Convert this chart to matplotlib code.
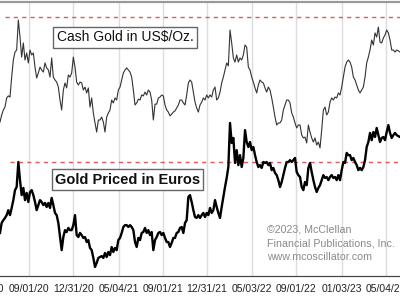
import numpy as np
import matplotlib
matplotlib.use("Agg")
import matplotlib.pyplot as plt
import matplotlib.dates as mdates
from matplotlib.patches import Rectangle

plt.rcParams['font.family'] = ['Liberation Sans', 'DejaVu Sans']

# cash gold, US$/oz (sampled about every 4.5 days from mid-June 2020)
usd_gold = [
    1717, 1741, 1758, 1768, 1799, 1806, 1802, 1870, 1928, 1955, 1962, 2064, 2006, 1938, 1986,
    1928, 1952, 1918, 1962, 1945, 1952, 1904, 1867, 1884, 1904, 1894, 1887, 1918, 1901, 1894,
    1870, 1935, 1870, 1860, 1853, 1836, 1792, 1758, 1826, 1850, 1833, 1877, 1870, 1884, 1938,
    1904, 1853, 1843, 1853, 1850, 1826, 1836, 1816, 1833, 1768, 1799, 1748, 1714, 1683, 1724,
    1724, 1734, 1717, 1683, 1734, 1748, 1758, 1792, 1782, 1799, 1792, 1826, 1836, 1860, 1884,
    1894, 1901, 1894, 1887, 1870, 1826, 1775, 1782, 1795, 1792, 1809, 1806, 1819, 1809, 1826,
    1819, 1792, 1724, 1778, 1778, 1799, 1802, 1809, 1806, 1775, 1758, 1751, 1738, 1744, 1751,
    1755, 1765, 1775, 1792, 1792, 1782, 1775, 1809, 1850, 1860, 1853, 1819, 1785, 1765, 1751,
    1775, 1785, 1799, 1792, 1809, 1799, 1809, 1802, 1826, 1836, 1792, 1799, 1819, 1850, 1870,
    1894, 1918, 1908, 2030, 1986, 1935, 1921, 1945, 1921, 1935, 1928, 1945, 1979, 1972, 1904,
    1894, 1870, 1853, 1833, 1816, 1843, 1860, 1853, 1850, 1833, 1819, 1836, 1826, 1799, 1768,
    1734, 1707, 1714, 1714, 1724, 1758, 1775, 1792, 1792, 1782, 1748, 1734, 1714, 1697, 1707,
    1707, 1673, 1663, 1666, 1646, 1707, 1683, 1663, 1649, 1663, 1639, 1649, 1629, 1690, 1758,
    1768, 1741, 1751, 1785, 1799, 1792, 1802, 1799, 1816, 1809, 1836, 1870, 1904, 1921, 1928,
    1921, 1904, 1870, 1860, 1843, 1826, 1816, 1826, 1836, 1870, 1918, 1938, 1962, 1996, 1979,
    2020, 2006, 2040, 1989, 1986, 2003, 2013, 2030, 2020, 1996, 1962, 1962, 1955, 1962, 1959,
    1955,
]

# gold priced in euros, same dates
eur_gold = [
    1518, 1550, 1559, 1566, 1575, 1591, 1575, 1598, 1623, 1655, 1665, 1745, 1687, 1639, 1662,
    1623, 1646, 1617, 1649, 1655, 1639, 1617, 1591, 1607, 1623, 1617, 1607, 1614, 1601, 1614,
    1598, 1630, 1607, 1582, 1575, 1550, 1505, 1463, 1505, 1527, 1521, 1534, 1527, 1527, 1543,
    1575, 1511, 1505, 1518, 1511, 1502, 1505, 1489, 1495, 1470, 1463, 1438, 1409, 1422, 1438,
    1441, 1444, 1438, 1454, 1441, 1457, 1447, 1473, 1457, 1470, 1463, 1495, 1502, 1518, 1537,
    1543, 1543, 1537, 1543, 1537, 1527, 1489, 1473, 1502, 1495, 1518, 1521, 1534, 1518, 1527,
    1511, 1521, 1463, 1495, 1505, 1518, 1521, 1511, 1518, 1502, 1489, 1489, 1473, 1486, 1502,
    1502, 1518, 1521, 1534, 1537, 1518, 1550, 1559, 1633, 1639, 1617, 1591, 1569, 1566, 1575,
    1566, 1575, 1582, 1569, 1582, 1575, 1598, 1582, 1591, 1623, 1601, 1582, 1566, 1601, 1633,
    1665, 1694, 1729, 1870, 1806, 1822, 1742, 1783, 1735, 1767, 1729, 1758, 1847, 1809, 1793,
    1809, 1783, 1793, 1767, 1745, 1729, 1735, 1726, 1745, 1742, 1745, 1735, 1742, 1719, 1726,
    1710, 1703, 1687, 1665, 1681, 1703, 1726, 1745, 1745, 1751, 1745, 1751, 1758, 1713, 1703,
    1697, 1665, 1655, 1681, 1671, 1726, 1742, 1713, 1687, 1665, 1649, 1662, 1671, 1687, 1703,
    1694, 1697, 1687, 1697, 1703, 1694, 1697, 1687, 1703, 1687, 1719, 1745, 1742, 1774, 1767,
    1767, 1751, 1758, 1745, 1735, 1719, 1726, 1719, 1729, 1751, 1793, 1809, 1838, 1815, 1841,
    1825, 1854, 1831, 1809, 1822, 1825, 1815, 1841, 1863, 1838, 1822, 1831, 1838, 1831, 1828,
    1825,
]

usd_high = 2074
eur_high = 1745

tick_dates = ["2020-09-01", "2020-12-31", "2021-05-04", "2021-09-01", "2021-12-31",
              "2022-05-03", "2022-09-01", "2023-01-03", "2023-05-04"]
tick_labels = ["09/01/20", "12/31/20", "05/04/21", "09/01/21", "12/31/21",
               "05/03/22", "09/01/22", "01/03/23", "05/04/23"]

start = mdates.datestr2num("2020-06-14")
step = 4.552
x = start + np.arange(len(usd_gold)) * step

fig = plt.figure(figsize=(4, 3), dpi=100)
ax = fig.add_axes([0, 0.08, 1, 0.9133])
ax2 = ax.twinx()

ax.set_xlim(start, start + 1092.4)
ax.set_ylim(1193.6, 2125.2)
ax2.set_ylim(1380.2, 2257.0)

ax.grid(axis='x', color='#dcdcdc', lw=1)
ax.set_axisbelow(True)

ax.axhline(usd_high, xmin=5 / 400, color='#e05a5a', lw=1.0, ls=(0, (3, 3)))
ax2.axhline(eur_high, xmin=10 / 400, color='#e05a5a', lw=1.0, ls=(0, (3, 3)))

ax.plot(x, usd_gold, color='#333333', lw=0.8)
ax2.plot(x, eur_gold, color='black', lw=1.7)

ax.set_xticks([mdates.datestr2num(d) for d in tick_dates])
ax.set_xticklabels(tick_labels, fontsize=7.5, color='#222222')
ax.tick_params(axis='x', length=0, pad=6)
ax.set_yticks([])
ax2.set_yticks([])
# partly hidden label left of the plotted range
ax.annotate("05/01/20", xy=(mdates.datestr2num("2020-05-01"), 0), xycoords=ax.get_xaxis_transform(),
            xytext=(0, -6), textcoords='offset points', fontsize=7.5, color='#222222',
            ha='center', va='top', annotation_clip=False)

for a in (ax, ax2):
    a.spines['left'].set_visible(False)
    a.spines['right'].set_visible(False)
    a.spines['bottom'].set_color('#444444')
    a.spines['top'].set_color('#999999')
    a.spines['top'].set_linewidth(1.5)

# label boxes
fig.patches.append(Rectangle((53 / 400, 1 - 48 / 300), 144 / 400, 21 / 300, transform=fig.transFigure,
                             fc='white', ec='#666666', lw=1, zorder=5))
fig.text(125 / 400, 1 - 37.5 / 300, "Cash Gold in US$/Oz.", fontsize=10, ha='center', va='center',
         color='#111111', zorder=6)
fig.patches.append(Rectangle((52 / 400, 1 - 190 / 300), 151 / 400, 21 / 300, transform=fig.transFigure,
                             fc='white', ec='#666666', lw=1, zorder=5))
fig.text(127.5 / 400, 1 - 179.5 / 300, "Gold Priced in Euros", fontsize=10.5, fontweight='bold',
         ha='center', va='center', color='#111111', zorder=6)

for y, s in [(229, "\u00a92023, McClellan"), (243, "Financial Publications, Inc."),
             (257, "www.mcoscillator.com")]:
    fig.text(267 / 400, 1 - y / 300, s, fontsize=7.7, color='#8a8a8a', ha='left', va='center')

fig.savefig("out.png", dpi=100)
